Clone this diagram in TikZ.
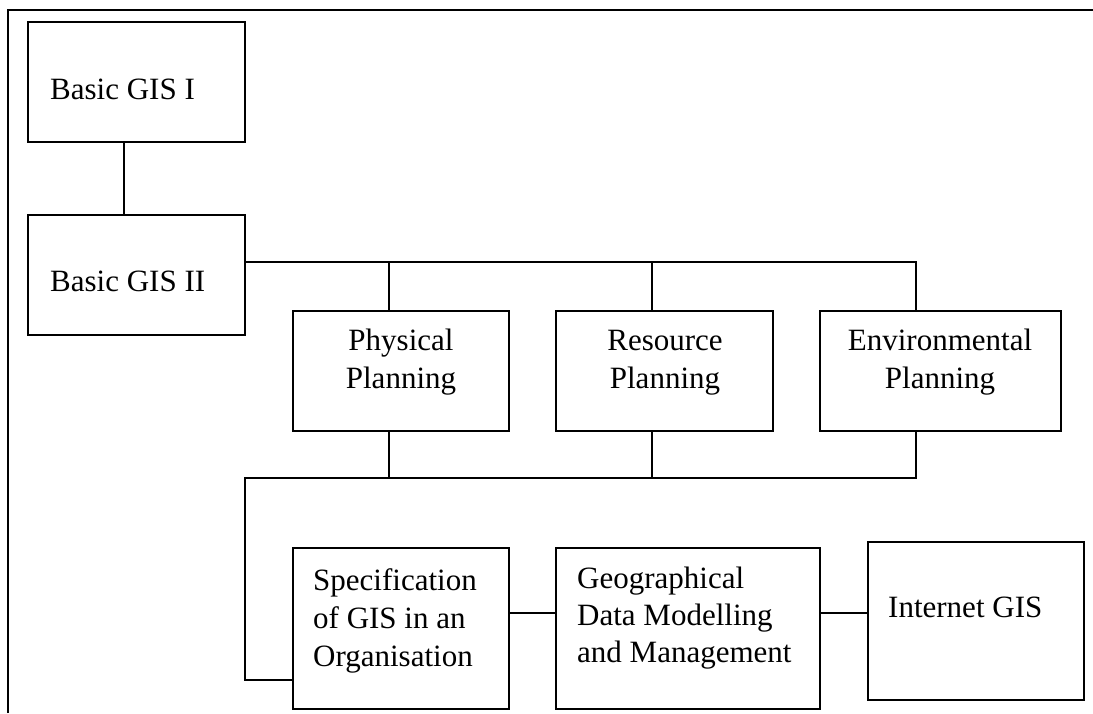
\documentclass[tikz,border=0pt]{standalone}
\usepackage{fontspec}
\setmainfont{Liberation Serif}
\usetikzlibrary{calc}
\begin{document}
\begin{tikzpicture}[x=1pt,y=-1pt,
  box/.style={draw=black, line width=1.6pt, rectangle, inner sep=0pt, outer sep=0pt, anchor=north west},
  conn/.style={draw=black, line width=1.4pt},
  lbl/.style={inner sep=0pt, font=\fontsize{31}{37}\selectfont},
  lblw/.style={lbl, anchor=base west},
  lblc/.style={lbl, anchor=base}]
\useasboundingbox (0,0) rectangle (1093,713);
% frame
\draw[line width=1.8pt] (8,713) -- (8,10) -- (1093,10);
% boxes
\node[box, minimum width=217pt, minimum height=120pt] (b1) at (28,22) {};
\node[box, minimum width=217pt, minimum height=120pt] (b2) at (28,215) {};
\node[box, minimum width=216pt, minimum height=120pt] (phys) at (293,311) {};
\node[box, minimum width=217pt, minimum height=120pt] (res) at (556,311) {};
\node[box, minimum width=241pt, minimum height=120pt] (env) at (820,311) {};
\node[box, minimum width=216pt, minimum height=161pt] (spec) at (293,548) {};
\node[box, minimum width=264pt, minimum height=161pt] (geo) at (556,548) {};
\node[box, minimum width=216pt, minimum height=158pt] (inet) at (868,542) {};
% labels
\node[lblw] (tb1) at (50,99) {Basic GIS I};
\node[lblw] (tb2) at (50,291) {Basic GIS II};
\node[lblc] (tp1) at (401,350) {Physical};
\node[lblc] (tp2) at (401,388) {Planning};
\node[lblc] (tr1) at (665,350) {Resource};
\node[lblc] (tr2) at (665,388) {Planning};
\node[lblc] (te1) at (940,350) {Environmental};
\node[lblc] (te2) at (940,388) {Planning};
\node[lblw] (ts1) at (313,590) {Specification};
\node[lblw] (ts2) at (313,628) {of GIS in an};
\node[lblw] (ts3) at (313,666) {Organisation};
\node[lblw] (tg1) at (577,588) {Geographical};
\node[lblw] (tg2) at (577,625) {Data Modelling};
\node[lblw] (tg3) at (577,662) {and Management};
\node[lblw] (ti) at (888,617) {Internet GIS};
% connector coordinates
\coordinate (k1) at (124,0);
\coordinate (t1) at (389,262);
\coordinate (t2) at (652,262);
\coordinate (t3) at (916,262);
\coordinate (u0) at (245,478);
\coordinate (u1) at (389,478);
\coordinate (u2) at (652,478);
\coordinate (u3) at (916,478);
\coordinate (u4) at (245,680);
\coordinate (m) at (0,613);
% connectors
\draw[conn] (b1.south -| k1) -- (b2.north -| k1);
\draw[conn] (b2.east |- t1) -- (t3) -- (env.north -| t3);
\draw[conn] (t1) -- (phys.north -| t1);
\draw[conn] (t2) -- (res.north -| t2);
\draw[conn] (phys.south -| u1) -- (u1);
\draw[conn] (res.south -| u2) -- (u2);
\draw[conn] (env.south -| u3) -- (u3) -- (u0) -- (u4) -- (spec.west |- u4);
\draw[conn] (spec.east |- m) -- (geo.west |- m);
\draw[conn] (geo.east |- m) -- (inet.west |- m);
\end{tikzpicture}
\end{document}
